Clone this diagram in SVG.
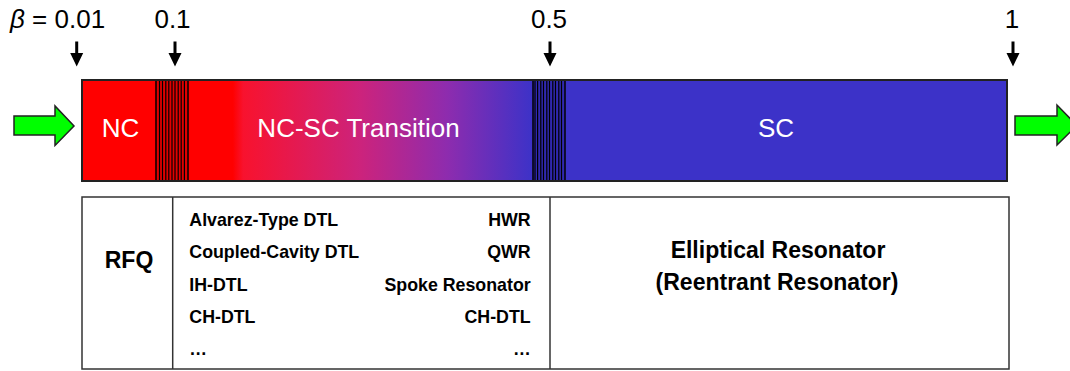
<svg xmlns="http://www.w3.org/2000/svg" width="1070" height="371" viewBox="0 0 1070 371">
  <defs>
    <style>
      .lbl { font-family: "Liberation Sans", Arial, sans-serif; font-size: 26px; fill: #000; }
      .bar { font-family: "Liberation Sans", Arial, sans-serif; font-size: 26px; fill: #fff; text-anchor: middle; }
      .sm { font-family: "Liberation Sans", Arial, sans-serif; font-size: 17.8px; font-weight: bold; fill: #000; }
      .big { font-family: "Liberation Sans", Arial, sans-serif; font-size: 23px; font-weight: bold; fill: #000; text-anchor: middle; }
      .stripe { stroke: #000; stroke-width: 1.2; }
      .green { fill: #00ff00; stroke: #222; stroke-width: 1.5; }
      .cell { fill: #fff; stroke: #333; stroke-width: 1.5; }
    </style>
    <linearGradient id="trans" gradientUnits="userSpaceOnUse" x1="188" y1="0" x2="533" y2="0">
      <stop offset="0" stop-color="#ff0000"/>
      <stop offset="0.13" stop-color="#ff0000"/>
      <stop offset="0.16" stop-color="#f8122e"/>
      <stop offset="0.5" stop-color="#cc237c"/>
      <stop offset="0.75" stop-color="#8e2cae"/>
      <stop offset="1" stop-color="#3c32c8"/>
    </linearGradient>
  </defs>

  <g id="beta-labels">
    <text class="lbl" x="10" y="28"><tspan font-style="italic">β</tspan> = 0.01</text>
    <text class="lbl" x="172.5" y="28" text-anchor="middle">0.1</text>
    <text class="lbl" x="549" y="28" text-anchor="middle">0.5</text>
    <text class="lbl" x="1012" y="28" text-anchor="middle">1</text>
  </g>

  <g id="connectors">
    <g fill="#000">
      <path d="M75.2,41.5 h3 v11.5 h5 l-6.5,13.5 l-6.5,-13.5 h5 z"/>
      <path d="M173.5,41.5 h3 v11.5 h5 l-6.5,13.5 l-6.5,-13.5 h5 z"/>
      <path d="M548.5,41.5 h3 v11.5 h5 l-6.5,13.5 l-6.5,-13.5 h5 z"/>
      <path d="M1011.5,41.5 h3 v11.5 h5 l-6.5,13.5 l-6.5,-13.5 h5 z"/>
    </g>
    <path class="green" d="M14,116 H55 V106 L74,126 L55,145.5 V135 H14 Z"/>
    <path class="green" d="M1015,116 H1057 V105 L1077,125.5 L1057,145 V135 H1015 Z"/>
  </g>

  <g id="bar">
    <rect x="82" y="80" width="925" height="101" fill="#3c32c8"/>
    <rect x="82" y="80" width="75" height="101" fill="#ff0000"/>
    <rect x="188" y="80" width="345" height="101" fill="url(#trans)"/>
    <g id="stripes-nc">
      <rect x="156" y="80" width="32" height="101" fill="#e00000" stroke="#000" stroke-width="1.5"/>
      <g class="stripe">
        <line x1="159.5" y1="80" x2="159.5" y2="181"/>
        <line x1="162.5" y1="80" x2="162.5" y2="181"/>
        <line x1="165.8" y1="80" x2="165.8" y2="181"/>
        <line x1="168.8" y1="80" x2="168.8" y2="181"/>
        <line x1="172" y1="80" x2="172" y2="181"/>
        <line x1="175" y1="80" x2="175" y2="181"/>
        <line x1="178.2" y1="80" x2="178.2" y2="181"/>
        <line x1="181.2" y1="80" x2="181.2" y2="181"/>
        <line x1="184.4" y1="80" x2="184.4" y2="181"/>
      </g>
    </g>
    <g id="stripes-sc">
      <rect x="533" y="80" width="32" height="101" fill="#3028b0" stroke="#000" stroke-width="1.5"/>
      <g class="stripe">
        <line x1="535" y1="80" x2="535" y2="181"/>
        <line x1="537.6" y1="80" x2="537.6" y2="181"/>
        <line x1="540.8" y1="80" x2="540.8" y2="181"/>
        <line x1="543.5" y1="80" x2="543.5" y2="181"/>
        <line x1="546.8" y1="80" x2="546.8" y2="181"/>
        <line x1="549.5" y1="80" x2="549.5" y2="181"/>
        <line x1="552.8" y1="80" x2="552.8" y2="181"/>
        <line x1="555.5" y1="80" x2="555.5" y2="181"/>
        <line x1="558.8" y1="80" x2="558.8" y2="181"/>
        <line x1="561.5" y1="80" x2="561.5" y2="181"/>
      </g>
    </g>
    <rect x="82" y="80" width="925" height="101" fill="none" stroke="#222" stroke-width="2"/>
    <text class="bar" x="120.5" y="137">NC</text>
    <text class="bar" x="358.5" y="137">NC-SC Transition</text>
    <text class="bar" x="776" y="137">SC</text>
  </g>

  <g id="table">
    <rect class="cell" x="82" y="197" width="927" height="172"/>
    <line x1="172.7" y1="197" x2="172.7" y2="369" stroke="#333" stroke-width="1.5"/>
    <line x1="550" y1="197" x2="550" y2="369" stroke="#333" stroke-width="1.5"/>
  </g>

  <g id="rfq">
    <text class="big" x="129" y="268" font-size="25">RFQ</text>
  </g>

  <g id="transition-list">
    <text class="sm" x="189.3" y="226">Alvarez-Type DTL</text>
    <text class="sm" x="189.3" y="258">Coupled-Cavity DTL</text>
    <text class="sm" x="189.3" y="291">IH-DTL</text>
    <text class="sm" x="189.3" y="323">CH-DTL</text>
    <text class="sm" x="189.3" y="355">…</text>
    <text class="sm" x="530.7" y="226" text-anchor="end">HWR</text>
    <text class="sm" x="530.7" y="258" text-anchor="end">QWR</text>
    <text class="sm" x="530.7" y="291" text-anchor="end">Spoke Resonator</text>
    <text class="sm" x="530.7" y="323" text-anchor="end">CH-DTL</text>
    <text class="sm" x="530.7" y="355" text-anchor="end">…</text>
  </g>

  <g id="elliptical">
    <text class="big" x="778" y="258">Elliptical Resonator</text>
    <text class="big" x="777" y="290">(Reentrant Resonator)</text>
  </g>
</svg>
